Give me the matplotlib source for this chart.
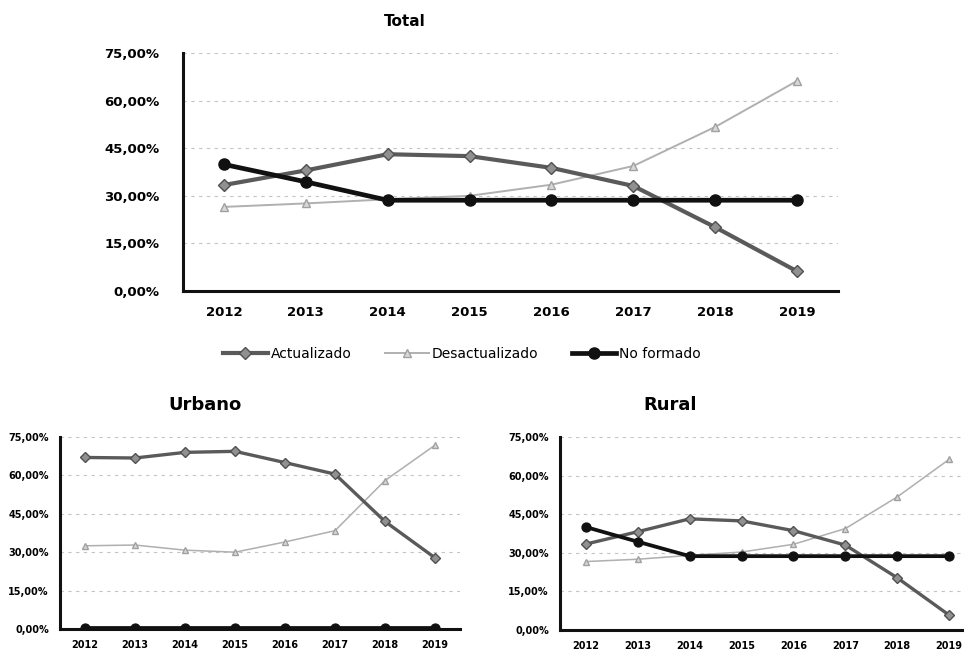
import matplotlib
matplotlib.use('Agg')
import matplotlib.pyplot as plt
from matplotlib.ticker import FuncFormatter

years = ['2012', '2013', '2014', '2015', '2016', '2017', '2018', '2019']
series_names = ['Actualizado', 'Desactualizado', 'No formado']

total_act = [33.4, 38.0, 43.1, 42.5, 38.8, 33.1, 20.1, 6.2]
total_desact = [26.5, 27.6, 28.9, 30.0, 33.5, 39.4, 51.7, 66.2]
total_noform = [39.9, 34.4, 28.6, 28.6, 28.6, 28.6, 28.6, 28.6]

urb_act = [67.0, 66.8, 69.0, 69.4, 65.0, 60.5, 42.0, 27.8]
urb_desact = [32.5, 32.8, 30.8, 30.0, 34.0, 38.4, 58.0, 71.8]
urb_noform = [0.4, 0.4, 0.4, 0.4, 0.4, 0.4, 0.4, 0.4]

rur_act = [33.4, 38.2, 43.2, 42.4, 38.6, 33.0, 20.3, 5.8]
rur_desact = [26.6, 27.5, 29.0, 30.3, 33.3, 39.4, 51.7, 66.3]
rur_noform = [40.0, 34.3, 28.7, 28.7, 28.7, 28.7, 28.7, 28.7]

yticks = [0, 15, 30, 45, 60, 75]

W, H = 964, 655
fig = plt.figure(figsize=(W / 100, H / 100), dpi=100)


def box(l, t, r, b):
    return [l / W, 1 - b / H, (r - l) / W, (b - t) / H]


def pct(v, _):
    return ('%.2f%%' % v).replace('.', ',')


def draw(ax, act, desact, noform, size, lw_scale=1.0, ms_scale=1.0):
    x = range(len(years))
    ax.plot(x, desact, color='#b0b0b0', lw=1.4 * lw_scale, marker='^',
            ms=6 * ms_scale, mfc='#d8d8d8', mec='#a0a0a0', zorder=3,
            label=series_names[1])
    ax.plot(x, act, color='#5a5a5a', lw=3.0 * lw_scale, marker='D',
            ms=6 * ms_scale, mfc='#909090', mec='#505050', zorder=4,
            label=series_names[0])
    ax.plot(x, noform, color='#111111', lw=3.4 * lw_scale, marker='o',
            ms=8 * ms_scale, mfc='#111111', mec='#111111', zorder=5,
            label=series_names[2])
    ax.set_xlim(-0.5, len(years) - 0.5)
    ax.set_ylim(0, 75)
    ax.set_yticks(yticks)
    ax.yaxis.set_major_formatter(FuncFormatter(pct))
    ax.set_xticks(list(x))
    ax.set_xticklabels(years)
    ax.tick_params(length=0, labelsize=size, pad=8)
    for lab in ax.get_xticklabels() + ax.get_yticklabels():
        lab.set_fontweight('bold')
    ax.grid(axis='y', color='#c4c4c4', lw=0.8, ls=(0, (3, 4)))
    ax.set_axisbelow(True)
    for s in ['top', 'right']:
        ax.spines[s].set_visible(False)
    for s in ['left', 'bottom']:
        ax.spines[s].set_linewidth(2.2)
        ax.spines[s].set_color('#111111')


ax_t = fig.add_axes(box(183, 53, 838, 291))
draw(ax_t, total_act, total_desact, total_noform, 9.5)
ax_t.tick_params(axis='y', pad=17)
ax_t.tick_params(axis='x', pad=11)
fig.text(405 / W, 1 - 22 / H, 'Total', ha='center', va='center',
         fontsize=11, fontweight='heavy')

handles, labels = ax_t.get_legend_handles_labels()
order = [1, 0, 2]
fig.legend([handles[i] for i in order], [labels[i] for i in order],
           loc='center', bbox_to_anchor=(462 / W, 1 - 354 / H), ncol=3,
           frameon=False, fontsize=10, handlelength=3.2, columnspacing=2.4,
           handletextpad=0.2)

ax_u = fig.add_axes(box(60, 437, 460, 629))
draw(ax_u, urb_act, urb_desact, urb_noform, 7, 0.8, 0.8)
fig.text(205 / W, 1 - 405 / H, 'Urbano', ha='center', va='center',
         fontsize=13, fontweight='heavy')

ax_r = fig.add_axes(box(560, 437, 975, 630))
draw(ax_r, rur_act, rur_desact, rur_noform, 7, 0.8, 0.8)
fig.text(670 / W, 1 - 405 / H, 'Rural', ha='center', va='center',
         fontsize=13, fontweight='heavy')

fig.savefig('out.png', dpi=100)
